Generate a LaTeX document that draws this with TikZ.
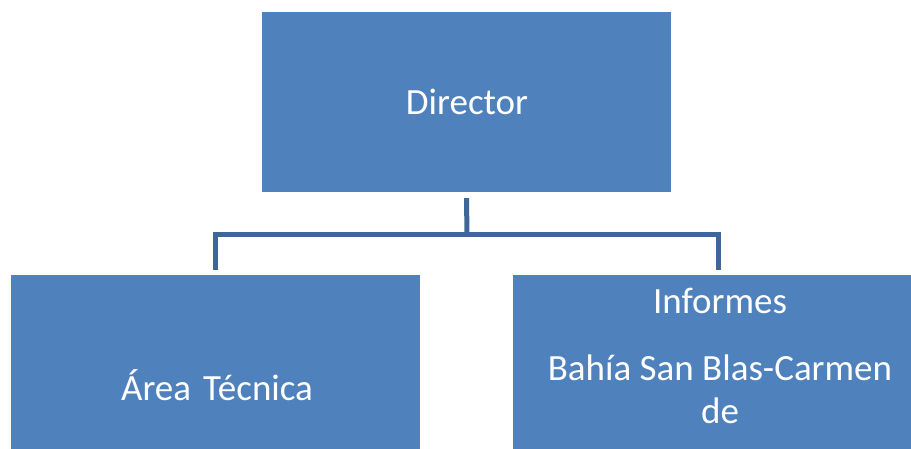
\documentclass[tikz,border=0pt]{standalone}
\usepackage{fontspec}
\setmainfont{Carlito}
\definecolor{boxblue}{RGB}{79,129,189}
\definecolor{connblue}{RGB}{62,102,153}
\begin{document}
\begin{tikzpicture}[x=1pt,y=-1pt,
  orgbox/.style={fill=boxblue,draw=none},
  lbl/.style={text=white,font=\fontsize{37}{44}\selectfont,anchor=base,inner sep=0pt},
  conn/.style={draw=connblue,line width=5pt,line join=miter}]
\useasboundingbox (0,0) rectangle (911,449);
\fill[white] (0,0) rectangle (911,449);
\node[orgbox,minimum width=409pt,minimum height=180pt] (director) at (466.5,102) {};
\node[orgbox,minimum width=409.5pt,minimum height=200pt] (area) at (215.25,375) {};
\node[orgbox,minimum width=417.5pt,minimum height=200pt] (informes) at (721.25,375) {};
\node[lbl] (tdir) at (467,115) {Director};
\node[lbl] (tarea) at (217,400) {Área\hspace{0.1em} Técnica};
\node[lbl] (tinf1) at (720,313) {Informes};
\node[lbl] (tinf2) at (720,381) {Bahía San Blas-Carmen};
\node[lbl] (tinf3) at (720,423) {de};
\coordinate (bus) at (467,234.5);
\coordinate (lend) at (215,270);
\coordinate (rend) at (718,270);
\draw[conn] ([yshift=-6pt]director.south) -- (bus);
\draw[conn] (lend) |- (bus) -| (rend);
\end{tikzpicture}
\end{document}
